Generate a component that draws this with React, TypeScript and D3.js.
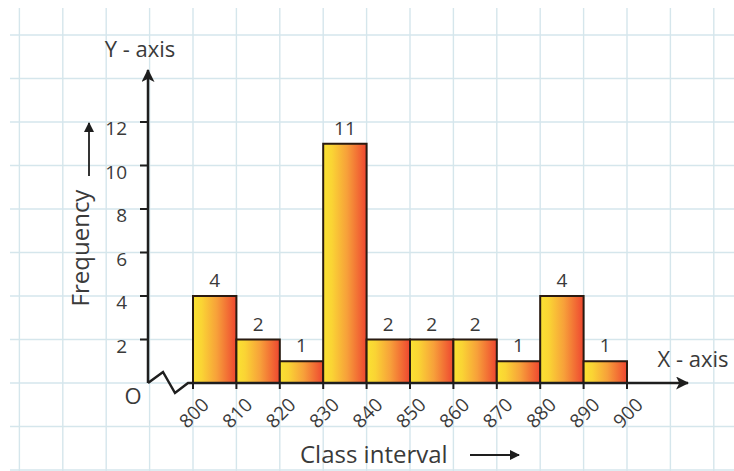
import React from "react";
import * as d3 from "d3";

const binStarts = [800, 810, 820, 830, 840, 850, 860, 870, 880, 890];
const frequencies = [4, 2, 1, 11, 2, 2, 2, 1, 4, 1];
const xTicks = [800, 810, 820, 830, 840, 850, 860, 870, 880, 890, 900];
const yTicks = [2, 4, 6, 8, 10, 12];
const binWidth = 10;

const W = 734;
const H = 471;
const FONT = "'Open Sans', 'Noto Sans', sans-serif";
const TEXT = "#3a3a3a";
const AXIS = "#1e1e1e";

export default function App() {
  const x = d3.scaleLinear().domain([800, 900]).range([193, 627]);
  const y = d3.scaleLinear().domain([0, 12]).range([383, 122]);
  const axisX = 148;
  const base = y(0);
  const gx = x(810) - x(800);
  const gy = y(0) - y(2);

  const vGrid: number[] = [];
  for (let k = -5; k <= 14; k++) {
    const v = x(800) + k * gx;
    if (v >= 8 && v <= W) vGrid.push(v);
  }
  const hGrid: number[] = [];
  for (let k = -3; k <= 12; k++) {
    const v = base - k * gy;
    if (v >= 6 && v <= H) hGrid.push(v);
  }

  const zig = d3.line()([
    [axisX, base],
    [axisX + 15, base - 11],
    [axisX + 27, base + 10],
    [axisX + 40, base],
    [x(800), base],
  ]);

  return (
    <svg
      width={W}
      height={H}
      style={{ position: "absolute", left: 0, top: 0, background: "#fff" }}
      fontFamily={FONT}
    >
      <defs>
        <linearGradient id="barGrad" x1="0" x2="1" y1="0" y2="0">
          <stop offset="0%" stopColor="#fbe232" />
          <stop offset="20%" stopColor="#fad434" />
          <stop offset="55%" stopColor="#f7a03a" />
          <stop offset="100%" stopColor="#ee4630" />
        </linearGradient>
        <marker id="arrowHead" viewBox="0 0 10 10" refX="9" refY="5" markerWidth="10" markerHeight="10" markerUnits="userSpaceOnUse" orient="auto">
          <path d="M0,0 L10,5 L0,10 z" fill={AXIS} />
        </marker>
        <marker id="arrowBig" viewBox="0 0 12 12" refX="11" refY="6" markerWidth="13" markerHeight="13" markerUnits="userSpaceOnUse" orient="auto">
          <path d="M0,0 L12,6 L0,12 L3,6 z" fill={AXIS} />
        </marker>
      </defs>

      <g stroke="#d5e6ec" strokeWidth={1.4}>
        {vGrid.map((v, i) => (
          <line key={"v" + i} x1={v} x2={v} y1={8} y2={H} />
        ))}
        {hGrid.map((v, i) => (
          <line key={"h" + i} x1={10} x2={W} y1={v} y2={v} />
        ))}
      </g>

      {binStarts.map((s, i) => (
        <rect
          key={s}
          x={x(s)}
          y={y(frequencies[i])}
          width={x(s + binWidth) - x(s)}
          height={base - y(frequencies[i])}
          fill="url(#barGrad)"
          stroke="#2a1a10"
          strokeWidth={2}
        />
      ))}

      {binStarts.map((s, i) => (
        <text
          key={"l" + s}
          x={x(s + binWidth / 2)}
          y={y(frequencies[i]) - 9}
          textAnchor="middle"
          fontSize={19}
          fill={TEXT}
        >
          {frequencies[i]}
        </text>
      ))}

      {/* axes */}
      <line x1={axisX} x2={axisX} y1={base} y2={70} stroke={AXIS} strokeWidth={2.5} markerEnd="url(#arrowBig)" />
      <path d={zig || ""} fill="none" stroke={AXIS} strokeWidth={2.5} strokeLinejoin="miter" />
      <line x1={x(800)} x2={688} y1={base} y2={base} stroke={AXIS} strokeWidth={2.5} markerEnd="url(#arrowBig)" />

      {yTicks.map((t) => (
        <g key={"yt" + t}>
          <line x1={axisX - 8} x2={axisX} y1={y(t)} y2={y(t)} stroke={AXIS} strokeWidth={2} />
          <text x={127} y={y(t) + 13} textAnchor="end" fontSize={19} fill={TEXT}>
            {t}
          </text>
        </g>
      ))}

      {xTicks.map((t) => (
        <g key={"xt" + t}>
          <line x1={x(t)} x2={x(t)} y1={base} y2={base + 6} stroke={AXIS} strokeWidth={2} />
          <text
            transform={`translate(${x(t) + 1},${base + 30}) rotate(-45)`}
            textAnchor="middle"
            dy="0.35em"
            fontSize={19}
            fill={TEXT}
          >
            {t}
          </text>
        </g>
      ))}

      <text x={133} y={404} textAnchor="middle" fontSize={22} fill={TEXT}>O</text>
      <text x={140} y={57} textAnchor="middle" fontSize={22} fill={TEXT}>Y - axis</text>
      <text x={693} y={367} textAnchor="middle" fontSize={22} fill={TEXT}>X - axis</text>

      <text transform={`translate(89,248) rotate(-90)`} textAnchor="middle" fontSize={24} fill={TEXT}>
        Frequency
      </text>
      <line x1={89} x2={89} y1={176} y2={123} stroke={AXIS} strokeWidth={1.8} markerEnd="url(#arrowHead)" />

      <text x={300} y={463} fontSize={24} fill={TEXT}>Class interval</text>
      <line x1={470} x2={519} y1={455} y2={455} stroke={AXIS} strokeWidth={1.8} markerEnd="url(#arrowHead)" />
    </svg>
  );
}
